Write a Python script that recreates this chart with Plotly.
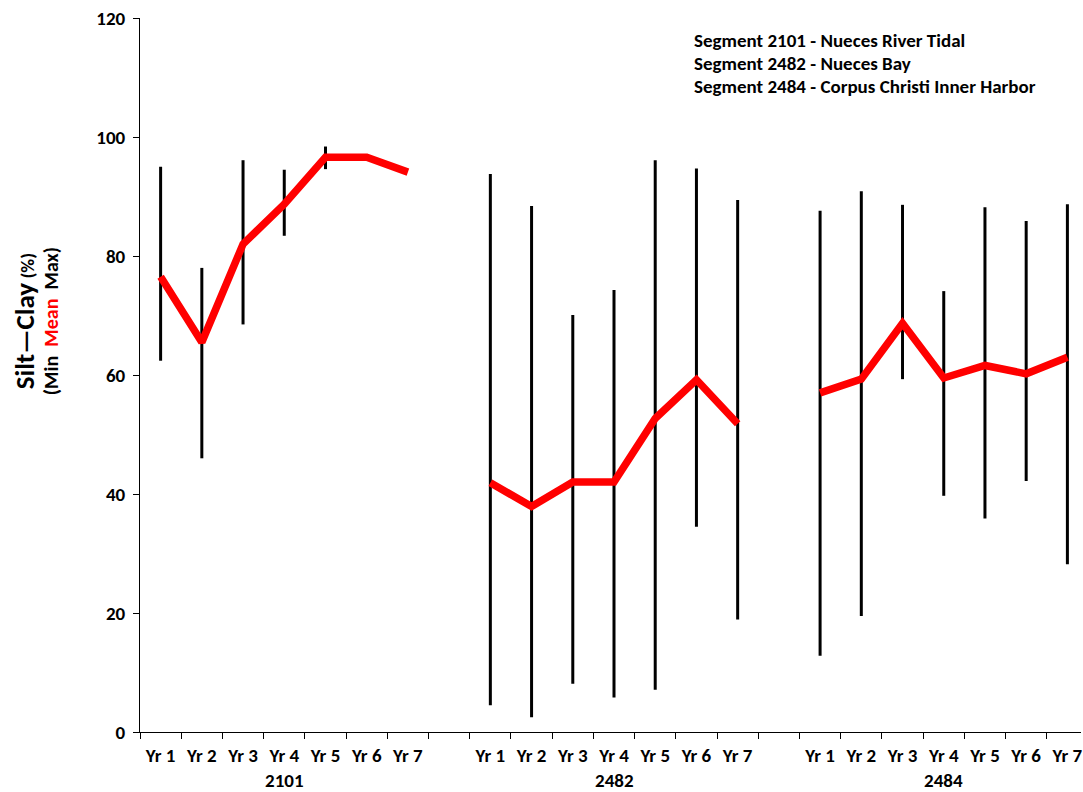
import plotly.graph_objects as go

# ---- data ----
years = ["Yr 1", "Yr 2", "Yr 3", "Yr 4", "Yr 5", "Yr 6", "Yr 7"]
segments = ["2101", "2482", "2484"]

mean_2101 = [76.5, 65.5, 82.0, 88.7, 96.6, 96.6, 94.1]
min_2101 = [62.4, 46.0, 68.5, 83.4, 94.6, None, None]
max_2101 = [95.0, 78.0, 96.1, 94.5, 98.4, None, None]

mean_2482 = [41.9, 37.9, 42.0, 42.0, 52.7, 59.2, 51.8]
min_2482 = [4.5, 2.5, 8.1, 5.8, 7.1, 34.5, 18.9]
max_2482 = [93.8, 88.4, 70.1, 74.3, 96.1, 94.7, 89.4]

mean_2484 = [57.0, 59.3, 68.7, 59.5, 61.6, 60.2, 63.0]
min_2484 = [12.8, 19.5, 59.3, 39.7, 35.9, 42.2, 28.2]
max_2484 = [87.6, 90.9, 88.6, 74.1, 88.2, 85.9, 88.7]

legend_lines = [
    "Segment 2101 - Nueces River Tidal",
    "Segment 2482 - Nueces Bay",
    "Segment 2484 - Corpus Christi Inner Harbor",
]

# ---- build sequences with gaps between segments ----
means = [mean_2101, mean_2482, mean_2484]
mins = [min_2101, min_2482, min_2484]
maxs = [max_2101, max_2482, max_2484]

xs, ys, eplus, eminus, tickvals, ticktext = [], [], [], [], [], []
pos = 0
for g in range(3):
    for i in range(7):
        m = means[g][i]
        lo = mins[g][i]
        hi = maxs[g][i]
        xs.append(pos)
        ys.append(m)
        eplus.append(0 if hi is None else hi - m)
        eminus.append(0 if lo is None else m - lo)
        tickvals.append(pos)
        ticktext.append(years[i])
        pos += 1
    if g < 2:
        xs.append(pos)
        ys.append(None)
        eplus.append(None)
        eminus.append(None)
        pos += 1

FONT = "Carlito, Lato, sans-serif"
TS = 19

fig = go.Figure()
fig.add_trace(go.Scatter(
    x=xs, y=ys, mode="markers",
    marker=dict(size=0.1, color="rgba(0,0,0,0)"),
    error_y=dict(type="data", symmetric=False, array=eplus, arrayminus=eminus,
                 color="black", thickness=3, width=0),
    showlegend=False, hoverinfo="skip",
))
fig.add_trace(go.Scatter(
    x=xs, y=ys, mode="lines", connectgaps=False,
    line=dict(color="#FF0000", width=7.5),
    showlegend=False,
))

fig.update_layout(
    width=1083, height=792,
    margin=dict(l=140, r=0, t=18, b=60),
    plot_bgcolor="white", paper_bgcolor="white",
    font=dict(family=FONT, color="black", size=TS),
    xaxis=dict(
        range=[-0.5, 22.33], showgrid=False, zeroline=False,
        showline=True, linecolor="black", linewidth=1,
        tickmode="array", tickvals=tickvals, ticktext=ticktext, ticks="",
        tickfont=dict(family=FONT, size=TS, color="black", weight="bold"),
        ticklabelstandoff=6, ticklabeloverflow="allow",
        minor=dict(tickmode="linear", tick0=-0.5, dtick=1, ticks="outside",
                   ticklen=6, tickcolor="black", tickwidth=1, showgrid=False),
    ),
    yaxis=dict(
        range=[0, 120], showgrid=False, zeroline=False,
        showline=True, linecolor="black", linewidth=1,
        tickmode="array", tickvals=[0, 20, 40, 60, 80, 100, 120],
        ticks="outside", ticklen=6, tickcolor="black",
        ticklabelstandoff=4,
        tickfont=dict(family=FONT, size=TS, color="black", weight="bold"),
    ),
)

# group labels
for g, name in enumerate(segments):
    fig.add_annotation(x=3 + 8 * g, y=-0.0686, xref="x", yref="paper",
                       text=f"<b>{name}</b>", showarrow=False,
                       font=dict(family=FONT, size=TS, color="black"),
                       xanchor="center", yanchor="middle")

# legend text lines
for k, (line, yp) in enumerate(zip(legend_lines, [0.9678, 0.9356, 0.9034])):
    fig.add_annotation(x=0.5864, y=yp, xref="paper", yref="paper",
                       text=f"<b>{line}</b>", showarrow=False,
                       font=dict(family=FONT, size=TS, color="black"),
                       xanchor="left", yanchor="middle")

# y-axis title (two rotated lines)
fig.add_annotation(x=(24 - 140) / 943, y=(732 - 321) / 714, xref="paper", yref="paper",
                   text="<b><span style='font-size:27px'>Silt\u2014Clay</span>"
                        "<span style='font-size:19px'> (%)</span></b>",
                   showarrow=False, textangle=-90,
                   font=dict(family=FONT, size=27, color="black"),
                   xanchor="center", yanchor="middle")
fig.add_annotation(x=(51 - 140) / 943, y=(732 - 321) / 714, xref="paper", yref="paper",
                   text="<b>(Min\u00a0\u00a0<span style='color:#FF0000'>Mean</span>\u00a0\u00a0Max)</b>",
                   showarrow=False, textangle=-90,
                   font=dict(family=FONT, size=20, color="black"),
                   xanchor="center", yanchor="middle")

fig.write_html("out.html", config={"displayModeBar": False},
               post_script="document.body.style.margin='0';")
